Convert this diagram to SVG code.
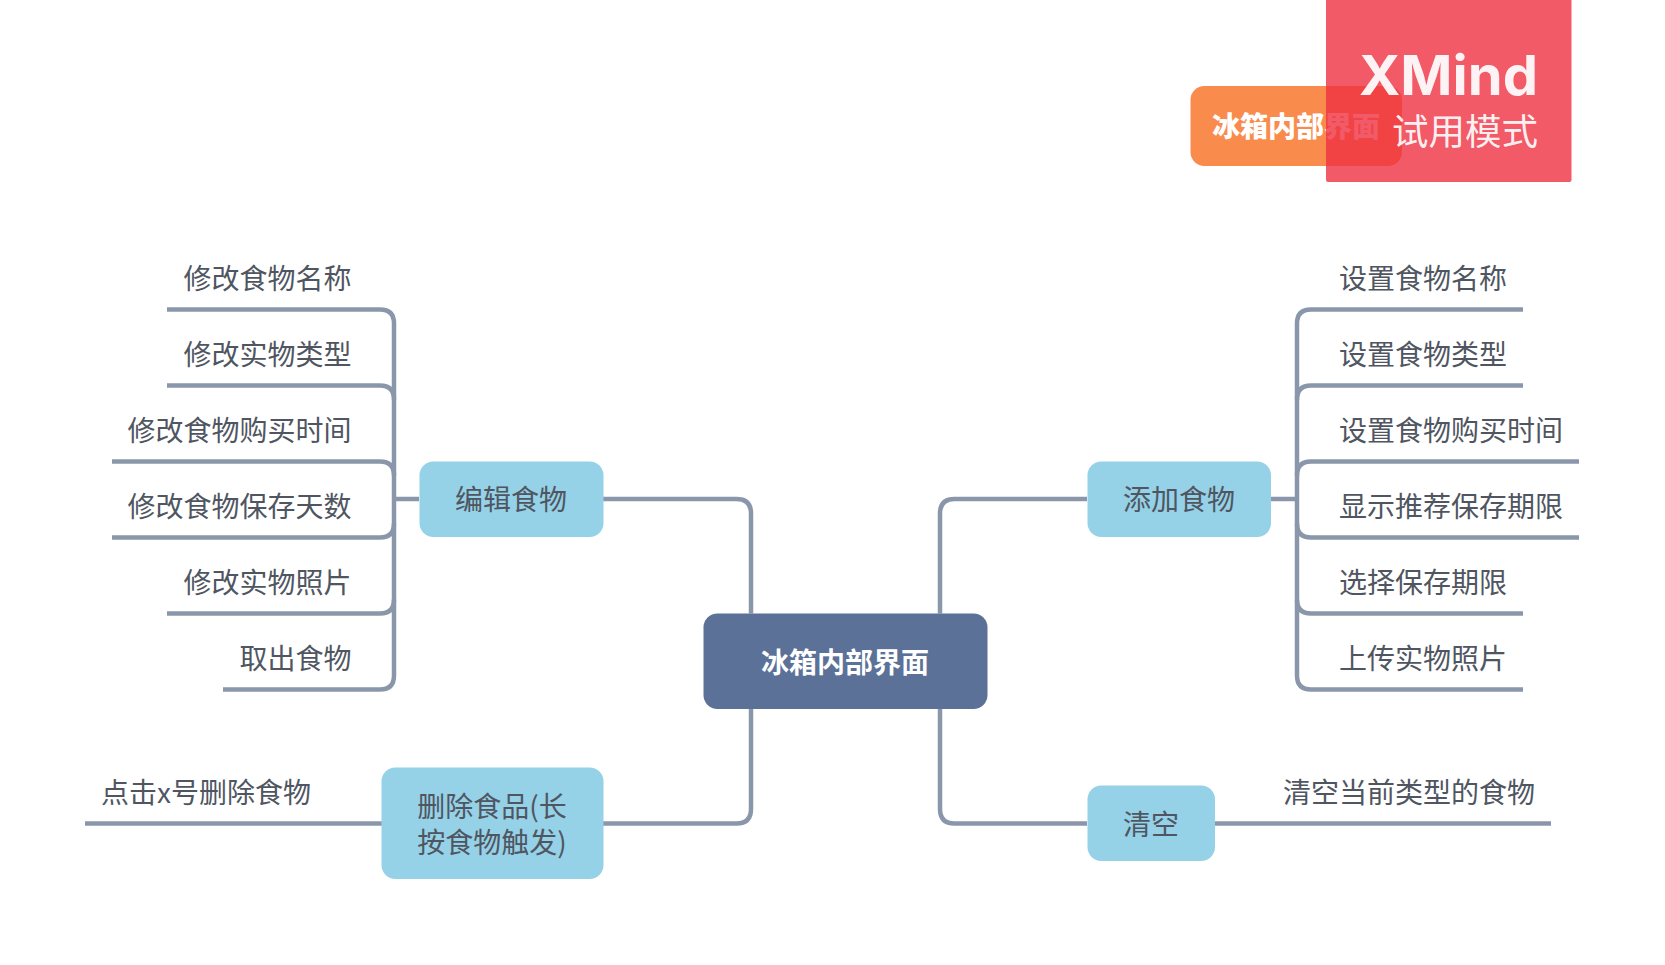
<svg xmlns="http://www.w3.org/2000/svg" width="1665" height="965" viewBox="0 0 1665 965">
<style>
text{font-family:"Noto Sans CJK SC","Noto Sans",sans-serif;font-size:28px;fill:#4f5661}
.links path{fill:none;stroke:#8a97ab;stroke-width:4.500}
.main rect{fill:#5b7198}
.main text{fill:#fff;font-weight:700;text-anchor:middle}
.sub rect{fill:#95d1e7}
.sub text{text-anchor:middle}
.lt{text-anchor:end}
</style>
<rect width="1665" height="965" fill="#fff"/>
<g class="links" id="connectors" transform="translate(0 .5)">
<path d="M751 613V513Q751 498.500 736.500 498.500H603"/>
<path d="M940 613V513Q940 498.500 954.500 498.500H1087"/>
<path d="M751 708V808.500Q751 823 736.500 823H603"/>
<path d="M940 708V808.500Q940 823 954.500 823H1087"/>
<path d="M419 498.500H394"/>
<path d="M1271 498.500H1297"/>
<path d="M167 309H380Q394 309 394 323V675Q394 689 380 689H223"/>
<path d="M167 385H380Q394 385 394 399"/>
<path d="M112 461H380Q394 461 394 475"/>
<path d="M112 537H380Q394 537 394 523"/>
<path d="M167 613H380Q394 613 394 599"/>
<path d="M1523 309H1311Q1297 309 1297 323V675Q1297 689 1311 689H1523"/>
<path d="M1523 385H1311Q1297 385 1297 399"/>
<path d="M1579 461H1311Q1297 461 1297 475"/>
<path d="M1579 537H1311Q1297 537 1297 523"/>
<path d="M1523 613H1311Q1297 613 1297 599"/>
<path d="M85 823H382"/>
<path d="M1215 823H1551"/>
</g>
<g id="root" class="main"><rect x="703.500" y="613.500" width="284" height="95.500" rx="14"/><text x="845" y="673">冰箱内部界面</text></g>
<g id="edit" class="sub"><rect x="419.500" y="461.500" width="184" height="75.500" rx="14"/><text x="511" y="510">编辑食物</text></g>
<g id="add" class="sub"><rect x="1087.500" y="461.500" width="183.500" height="75.500" rx="14"/><text x="1179" y="510">添加食物</text></g>
<g id="remove" class="sub"><rect x="381.500" y="767.500" width="222" height="111.500" rx="14"/><text><tspan x="492" y="817">删除食品(长</tspan><tspan x="492" y="853">按食物触发)</tspan></text></g>
<g id="clear" class="sub"><rect x="1087.500" y="785.500" width="127.500" height="75.500" rx="14"/><text x="1151" y="834.500">清空</text></g>
<g id="edit-items">
<text class="lt" x="351.500" y="288.500">修改食物名称</text>
<text class="lt" x="351.500" y="364.500">修改实物类型</text>
<text class="lt" x="351.500" y="440.500">修改食物购买时间</text>
<text class="lt" x="351.500" y="516.500">修改食物保存天数</text>
<text class="lt" x="351.500" y="592.500">修改实物照片</text>
<text class="lt" x="351.500" y="668.500">取出食物</text>
</g>
<g id="add-items">
<text x="1339" y="288.500">设置食物名称</text>
<text x="1339" y="364.500">设置食物类型</text>
<text x="1339" y="440.500">设置食物购买时间</text>
<text x="1339" y="516.500">显示推荐保存期限</text>
<text x="1339" y="592.500">选择保存期限</text>
<text x="1339" y="668.500">上传实物照片</text>
</g>
<text id="remove-item" x="101" y="802.500">点击x号删除食物</text>
<text id="clear-item" x="1283" y="802.500">清空当前类型的食物</text>
<g id="floating"><rect x="1190.500" y="86" width="211.500" height="80" rx="14" fill="#f98b4c"/><text x="1296" y="136.500" text-anchor="middle" style="fill:#fff;font-weight:900">冰箱内部界面</text></g>
<g id="trial-badge">
<rect x="1326" y="-4" width="245.500" height="186" rx="2" fill="#ef3142" fill-opacity=".8"/>
<text x="1359" y="95" textLength="179" lengthAdjust="spacingAndGlyphs" style="font-family:Inter,sans-serif;font-size:55px;font-weight:700;fill:#fff;fill-opacity:.93">XMind</text>
<text x="1392" y="145" style="font-size:36.500px;fill:#fff;fill-opacity:.93">试用模式</text>
</g>
</svg>
